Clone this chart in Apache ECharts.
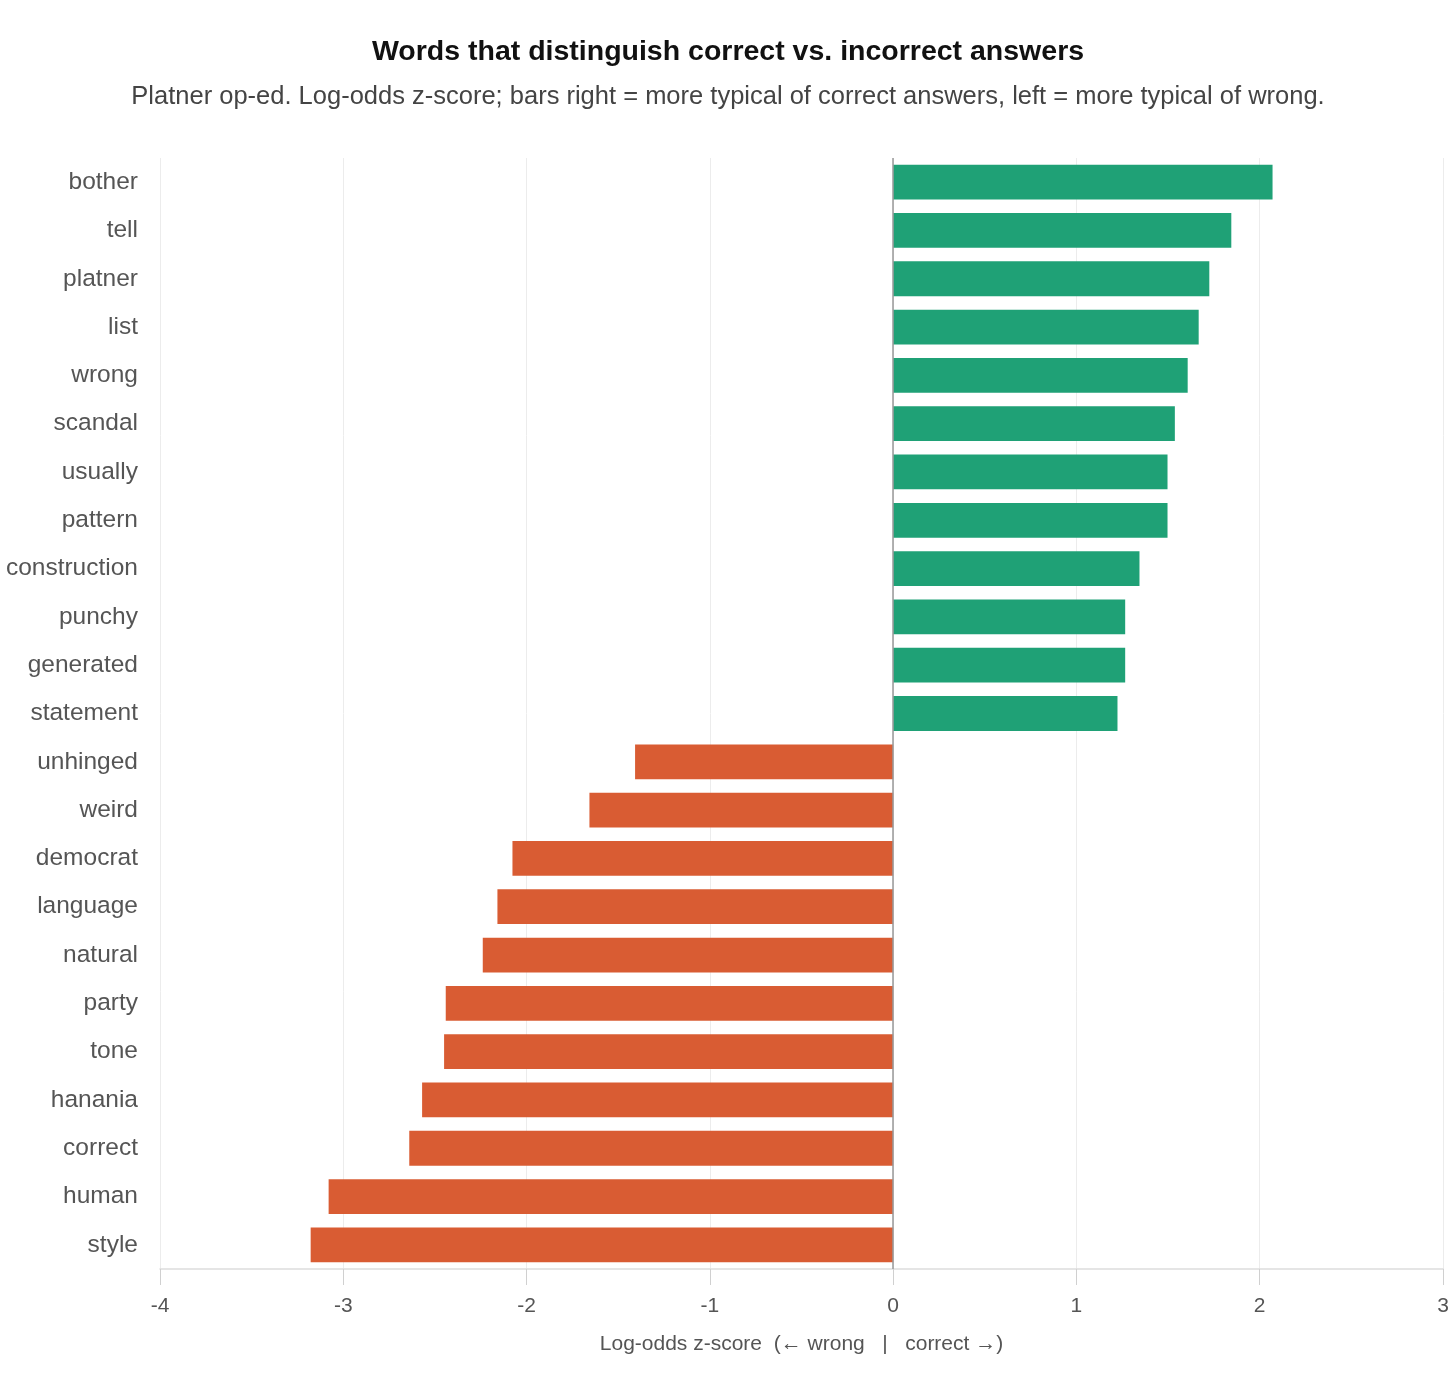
<!DOCTYPE html>
<html>
<head>
<meta charset="utf-8">
<script src="https://cdn.jsdelivr.net/npm/echarts@6/dist/echarts.min.js"></script>
<style>
  html, body { margin: 0; padding: 0; background: #fff; }
  #chart { width: 1456px; height: 1397px; }
</style>
</head>
<body>
<div id="chart"></div>
<script>
const words = ['bother', 'tell', 'platner', 'list', 'wrong', 'scandal', 'usually', 'pattern',
  'construction', 'punchy', 'generated', 'statement', 'unhinged', 'weird', 'democrat',
  'language', 'natural', 'party', 'tone', 'hanania', 'correct', 'human', 'style'];
const scores = [2.07, 1.845, 1.725, 1.667, 1.607, 1.537, 1.497, 1.497,
  1.344, 1.266, 1.266, 1.224, -1.408, -1.657, -2.077,
  -2.159, -2.239, -2.441, -2.45, -2.57, -2.64, -3.08, -3.178];
const xTicks = [-4, -3, -2, -1, 0, 1, 2, 3];

const green = '#1fa176';
const orange = '#d95c33';
const font = 'Helvetica Neue, Helvetica, Arial, Liberation Sans, sans-serif';

let myChart = echarts.init(document.getElementById('chart'));

option = {
  animation: false,
  title: [
    {
      text: 'Words that distinguish correct vs. incorrect answers',
      left: 'center',
      top: 33,
      textStyle: { fontSize: 28.5, fontWeight: 'bold', color: '#111', fontFamily: font }
    },
    {
      text: 'Platner op-ed. Log-odds z-score; bars right = more typical of correct answers, left = more typical of wrong.',
      left: 'center',
      top: 79,
      textStyle: { fontSize: 25.5, fontWeight: 'normal', color: '#444', fontFamily: font }
    }
  ],
  grid: { left: 160, right: 13, top: 158, bottom: 128 },
  xAxis: {
    type: 'value',
    min: xTicks[0],
    max: xTicks[xTicks.length - 1],
    interval: 1,
    name: 'Log-odds z-score  (\u2190 wrong   |   correct \u2192)',
    nameLocation: 'middle',
    nameGap: 65,
    nameTextStyle: { fontSize: 21, color: '#555', fontFamily: font },
    axisLine: { show: true, onZero: false, lineStyle: { color: '#ddd', width: 1.5 } },
    axisTick: { show: true, length: 16, lineStyle: { color: '#d0d0d0' } },
    axisLabel: { fontSize: 21, color: '#555', margin: 27, fontFamily: font },
    splitLine: { show: true, lineStyle: { color: '#ececec' } }
  },
  yAxis: {
    type: 'category',
    data: words,
    inverse: true,
    axisLine: { show: false, onZero: false },
    axisTick: { show: false },
    axisLabel: { fontSize: 24.5, color: '#555', margin: 22, fontFamily: font },
    splitLine: { show: false }
  },
  series: [
    {
      type: 'bar',
      barCategoryGap: '28%',
      data: scores.map(v => ({
        value: v,
        itemStyle: { color: v >= 0 ? green : orange }
      })),
      markLine: {
        silent: true,
        symbol: 'none',
        label: { show: false },
        lineStyle: { color: '#999', width: 1.5, type: 'solid' },
        data: [{ xAxis: 0 }]
      }
    }
  ]
};

myChart.setOption(option);
window.addEventListener('resize', function() {
  myChart.resize();
});
</script>
</body>
</html>
